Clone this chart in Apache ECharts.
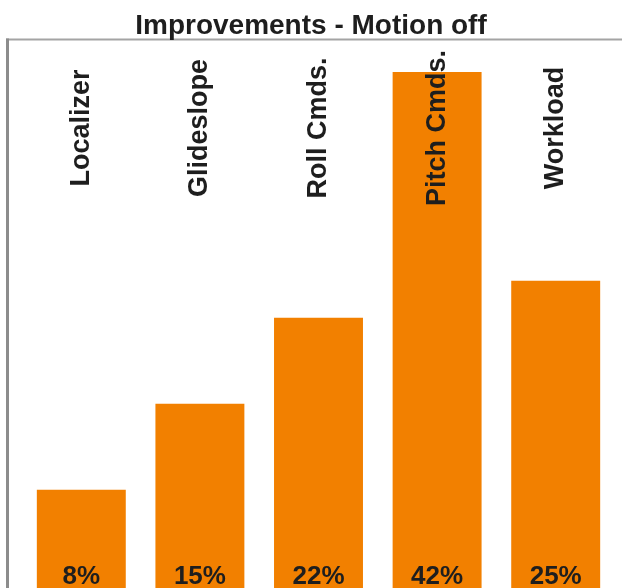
<!DOCTYPE html>
<html>
<head>
<meta charset="utf-8">
<script src="https://cdn.jsdelivr.net/npm/echarts@6/dist/echarts.min.js"></script>
<style>
  html, body { margin: 0; padding: 0; background: #ffffff; }
  #chart { width: 622px; height: 588px; }
</style>
</head>
<body>
<div id="chart"></div>
<script>
// Improvement per task with motion cueing switched off (percent)
const categories = ['Localizer', 'Glideslope', 'Roll Cmds.', 'Pitch Cmds.', 'Workload'];
const improvement = [8, 15, 22, 42, 25];

const chart = echarts.init(document.getElementById('chart'), null, { renderer: 'canvas' });

const FONT = '"Liberation Sans", Arial, sans-serif';
const INK = '#1e1e1e';

chart.setOption({
  backgroundColor: '#ffffff',
  animation: false,
  title: {
    text: 'Improvements - Motion off',
    left: 'center',
    top: 7,
    textStyle: { fontFamily: FONT, fontSize: 28, fontWeight: 'bold', color: INK }
  },
  grid: { left: 22, top: 72, width: 593, height: 516, containLabel: false, outerBoundsMode: 'none' },
  xAxis: {
    type: 'category',
    data: categories,
    position: 'top',
    axisLine: { show: false },
    axisTick: { show: false },
    splitLine: { show: false },
    axisLabel: {
      inside: true,
      rotate: 90,
      align: 'center',
      verticalAlign: 'middle',
      margin: 56,
      fontFamily: FONT,
      fontSize: 27,
      fontWeight: 'bold',
      color: INK
    },
    z: 10
  },
  yAxis: {
    type: 'value',
    min: 0,
    max: 42,
    show: false,
    splitLine: { show: false }
  },
  series: [{
    type: 'bar',
    data: improvement,
    barCategoryGap: '25%',
    itemStyle: { color: '#F28000' },
    label: {
      show: true,
      position: 'insideBottom',
      distance: -2,
      formatter: '{c}%',
      fontFamily: FONT,
      fontSize: 26,
      fontWeight: 'bold',
      color: INK
    }
  }],
  graphic: [
    {
      type: 'line',
      shape: { x1: 6, y1: 39.5, x2: 622, y2: 39.5 },
      style: { stroke: '#a4a4a4', lineWidth: 2 },
      z: 5
    },
    {
      type: 'line',
      shape: { x1: 7.5, y1: 38.5, x2: 7.5, y2: 588 },
      style: { stroke: '#8c8c8c', lineWidth: 3 },
      z: 5
    }
  ]
});
</script>
</body>
</html>
